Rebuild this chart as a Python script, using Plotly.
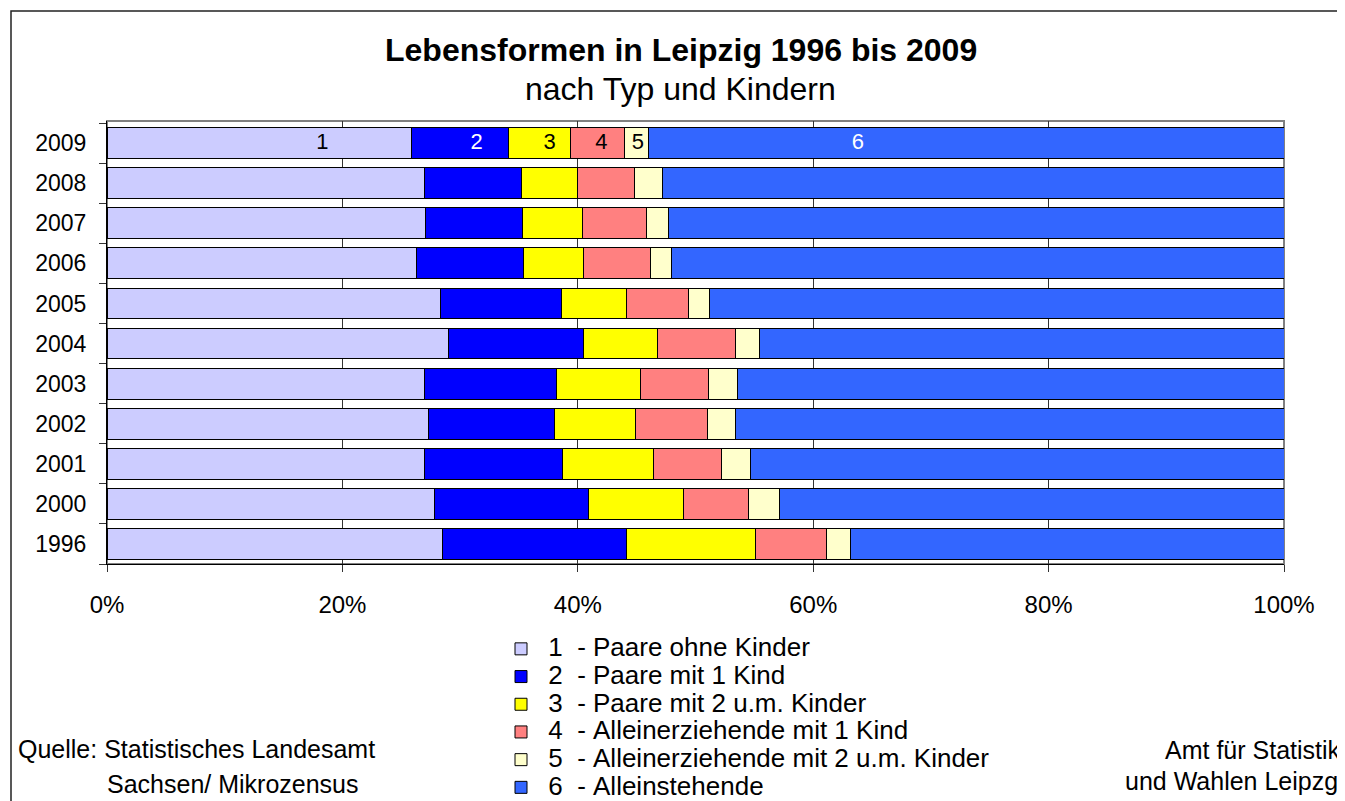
import plotly.graph_objects as go

# ---- data ----
years = ["1996", "2000", "2001", "2002", "2003", "2004", "2005", "2006", "2007", "2008", "2009"]
paare_ohne = [28.5, 27.8, 27.0, 27.3, 27.0, 29.0, 28.3, 26.3, 27.1, 27.0, 25.9]
paare_1 = [15.6, 13.1, 11.7, 10.7, 11.2, 11.5, 10.3, 9.1, 8.2, 8.2, 8.2]
paare_2 = [11.0, 8.1, 7.7, 6.9, 7.1, 6.3, 5.5, 5.1, 5.1, 4.8, 5.3]
allein_1 = [6.0, 5.5, 5.8, 6.1, 5.8, 6.6, 5.3, 5.7, 5.4, 4.8, 4.6]
allein_2 = [2.1, 2.6, 2.5, 2.4, 2.5, 2.0, 1.8, 1.8, 1.9, 2.4, 2.0]
alleinstehend = [36.8, 42.9, 45.3, 46.6, 46.4, 44.6, 48.8, 52.0, 52.3, 52.8, 54.0]

series_numbers = ["1", "2", "3", "4", "5", "6"]
series_texts = [
    "Paare ohne Kinder",
    "Paare mit 1 Kind",
    "Paare mit 2 u.m. Kinder",
    "Alleinerziehende mit 1 Kind",
    "Alleinerziehende mit 2 u.m. Kinder",
    "Alleinstehende",
]
series_values = [paare_ohne, paare_1, paare_2, allein_1, allein_2, alleinstehend]
colors = ["#CCCCFF", "#0000FF", "#FFFF00", "#FF8080", "#FFFFCC", "#3366FF"]

# labels drawn on the 2009 bar
label_year = "2009"
bar_labels = ["1", "2", "3", "4", "5", "6"]
bar_label_x = [18.3, 31.4, 37.6, 42.0, 45.1, 63.8]
bar_label_colors = ["black", "white", "black", "black", "black", "white"]

x_ticks = [0, 20, 40, 60, 80, 100]

FONT = "Liberation Sans, Arial, sans-serif"

# page body has an 8px margin -> figure is offset by (8, 8) on screen
OX, OY = 8, 8
W, H = 1345 - OX, 801 - OY
L, R, T, B = 107 - OX, 1284 - OX, 121 - OY, 564 - OY


def px(x):  # screen x -> paper
    return (x - OX - L) / (R - L)


def py(y):  # screen y -> paper
    return (B - (y - OY)) / (B - T)


NB = "\u00a0"

fig = go.Figure()
for num, txt, vals, col in zip(series_numbers, series_texts, series_values, colors):
    label = f"<span style='font-size:26px'>{NB}{num}{NB}{NB}-{NB}{txt}</span>"
    fig.add_trace(go.Bar(
        y=years, x=vals, name=label, orientation="h",
        marker=dict(color=col, line=dict(color="black", width=1)),
        hovertemplate=f"{num} - {txt}<br>%{{y}}: %{{x}}%<extra></extra>",
    ))

fig.add_trace(go.Scatter(
    x=bar_label_x, y=[label_year] * len(bar_labels), mode="text",
    text=bar_labels, textposition="middle center",
    textfont=dict(family=FONT, size=22, color=bar_label_colors),
    showlegend=False, hoverinfo="skip",
))


def ann(text, x, y, size, xanchor="center"):
    return dict(x=px(x), y=py(y), xref="paper", yref="paper", showarrow=False,
                xanchor=xanchor, yanchor="middle", text=text,
                font=dict(family=FONT, size=size, color="black"))


annotations = [
    ann("<b>Lebensformen in Leipzig 1996 bis 2009</b>", 681, 50, 32),
    ann("nach Typ und Kindern", 680, 89, 32),
    ann("Quelle: Statistisches Landesamt", 16, 749, 25, "left"),
    ann("Sachsen/ Mikrozensus", 105, 784, 25, "left"),
    ann("Amt für Statistik", 1343, 750, 25, "right"),
    ann("und Wahlen Leipzg", 1340, 781, 25, "right"),
]

shapes = [
    # plot area border (grey)
    dict(type="rect", xref="paper", yref="paper", x0=0, x1=1, y0=0, y1=1,
         line=dict(color="#808080", width=2), layer="below"),
    # outer chart frame
    dict(type="rect", xref="paper", yref="paper", x0=px(11), x1=px(1370), y0=py(11), y1=py(840),
         line=dict(color="#222222", width=1.5)),
]

fig.update_layout(
    width=W, height=H,
    margin=dict(l=L, r=W - R, t=T, b=H - B, autoexpand=False),
    paper_bgcolor="white", plot_bgcolor="white",
    barmode="stack", bargap=0.23,
    font=dict(family=FONT, color="black"),
    showlegend=True,
    legend=dict(x=px(501), y=py(630), xanchor="left", yanchor="top",
                traceorder="normal", font=dict(family=FONT, size=19, color="black"),
                bgcolor="rgba(0,0,0,0)", itemclick=False, itemdoubleclick=False),
    annotations=annotations,
    shapes=shapes,
)

fig.update_xaxes(
    range=[0, 100], tickvals=x_ticks, ticktext=[f"{v}%" for v in x_ticks],
    showgrid=True, gridcolor="#333333", gridwidth=1,
    showline=True, linecolor="black", linewidth=1,
    ticks="outside", ticklen=7, tickcolor="#333333",
    tickfont=dict(family=FONT, size=24, color="black"),
    ticklabelstandoff=12, zeroline=False, fixedrange=True,
)
fig.update_yaxes(
    type="category", categoryorder="array", categoryarray=years,
    showgrid=False, showline=True, linecolor="black", linewidth=1,
    ticks="outside", ticklen=7, tickcolor="#333333", tickson="boundaries",
    tickfont=dict(family=FONT, size=23, color="black"),
    ticklabelstandoff=15, fixedrange=True,
)

fig.write_html("out.html")
